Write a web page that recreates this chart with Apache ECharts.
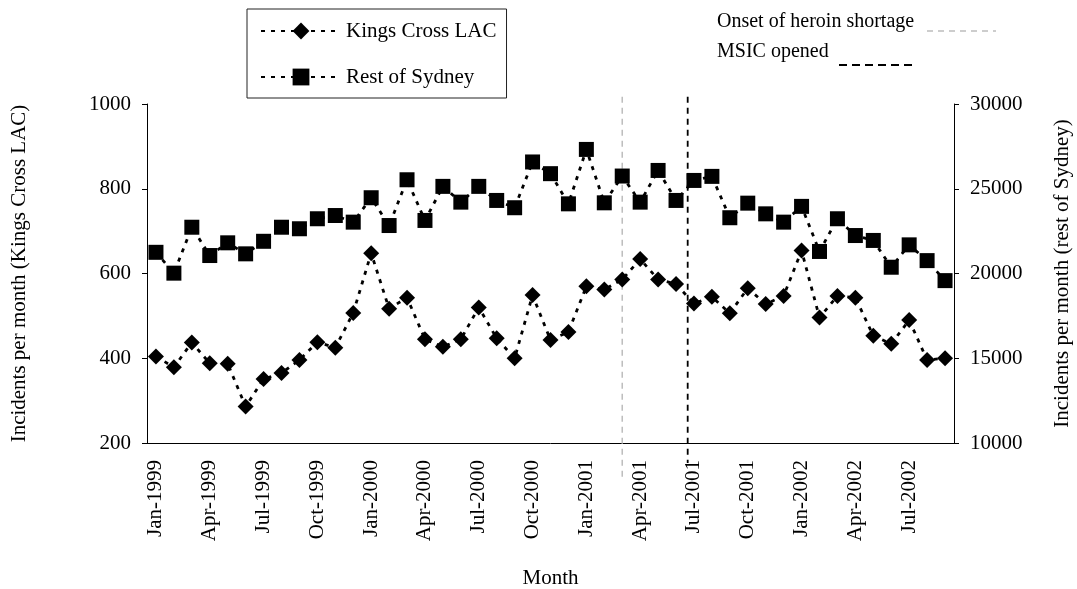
<!DOCTYPE html>
<html>
<head>
<meta charset="utf-8">
<title>Kings Cross LAC vs Rest of Sydney</title>
<script src="https://cdn.jsdelivr.net/npm/echarts@6/dist/echarts.min.js"></script>
<style>
    body{
        margin: 0;
        background: #fff;
    }
    #main{
        width: 1077px;
        height: 589px;
    }
</style>
</head>
<body>
<div id="main"></div>
<script>
    // months Jan-1999 .. Sep-2002
    var monthNames = ['Jan','Feb','Mar','Apr','May','Jun','Jul','Aug','Sep','Oct','Nov','Dec'];
    var years = [1999, 2000, 2001, 2002];
    var monthCount = 45;
    var months = [];
    for (var i = 0; i < monthCount; i++) {
        months.push(monthNames[i % 12] + '-' + years[Math.floor(i / 12)]);
    }

    // incidents per month, Kings Cross LAC (left axis)
    var kingsCross = [404, 379, 437, 388, 387, 286, 351, 365, 396, 438, 425, 507,
                      648, 517, 543, 445, 427, 445, 520, 447, 400, 549, 443, 462,
                      570, 562, 586, 634, 586, 575, 529, 545, 506, 565, 528, 547,
                      654, 496, 547, 543, 453, 434, 490, 396, 400];
    // incidents per month, rest of Sydney (right axis)
    var restOfSydney = [21250, 20020, 22730, 21060, 21810, 21160, 21900, 22730, 22640, 23230, 23420, 23030,
                        24470, 22830, 25530, 23130, 25140, 24210, 25140, 24310, 23880, 26580, 25890, 24110,
                        27320, 24170, 25750, 24210, 26080, 24310, 25490, 25730, 23290, 24150, 23520, 23030,
                        23960, 21300, 23230, 22240, 21950, 20370, 21690, 20760, 19580];

    // event lines: position on the month scale (0 = start of Jan-1999), top and bottom on left axis scale
    var eventNames = ['Onset of heroin shortage', 'MSIC opened'];
    var eventPos = [26.5, 30.15];
    var eventTop = [1017, 1017];
    var eventBottom = [117, 153];
    var eventColors = ['#bdbdbd', '#000'];

    var font = 'Liberation Serif';
    var txt = {color: '#000', fontFamily: font, fontSize: 21};
    var plain = function (v) { return String(v); };

    function eventSeries(k) {
        return {
            name: eventNames[k],
            type: 'line',
            xAxisIndex: 1,
            yAxisIndex: 0,
            clip: false,
            silent: true,
            symbol: 'none',
            z: 1,
            data: [[eventPos[k], eventTop[k]], [eventPos[k], eventBottom[k]]],
            lineStyle: {color: eventColors[k], width: k == 0 ? 1.5 : 1.8, type: [6, 5]}
        };
    }

    var myChart = echarts.init(document.getElementById('main'));
    myChart.setOption({
        animation: false,
        backgroundColor: '#fff',
        grid: {left: 147, right: 123, top: 104, bottom: 146, containLabel: false, outerBoundsMode: 'none'},
        legend: {
            data: ['Kings Cross LAC', 'Rest of Sydney'],
            orient: 'vertical',
            left: 247,
            top: 9,
            padding: [11, 10, 10, 13],
            borderColor: '#222',
            borderWidth: 1,
            itemWidth: 80,
            itemHeight: 21,
            itemGap: 24,
            textStyle: {color: '#000', fontFamily: font, fontSize: 21, lineHeight: 22}
        },
        xAxis: [{
            type: 'category',
            data: months,
            name: 'Month',
            nameLocation: 'middle',
            nameGap: 125,
            nameTextStyle: txt,
            axisLine: {lineStyle: {color: '#000', width: 1}},
            axisTick: {interval: 0, length: 5, lineStyle: {color: '#000'}},
            axisLabel: {interval: 2, rotate: 90, margin: 17, color: '#000', fontFamily: font, fontSize: 21},
            splitLine: {show: false}
        }, {
            type: 'value',
            min: 0,
            max: monthCount,
            show: false
        }],
        yAxis: [{
            type: 'value',
            min: 200,
            max: 1000,
            interval: 200,
            name: 'Incidents per month (Kings Cross LAC)',
            nameLocation: 'middle',
            nameRotate: 90,
            nameGap: 117,
            nameTextStyle: txt,
            axisLine: {show: true, lineStyle: {color: '#000'}},
            axisTick: {show: true, length: 5, lineStyle: {color: '#000'}},
            axisLabel: {margin: 16, color: '#000', fontFamily: font, fontSize: 21, formatter: plain},
            splitLine: {show: false}
        }, {
            type: 'value',
            min: 10000,
            max: 30000,
            interval: 5000,
            name: 'Incidents per month (rest of Sydney)',
            nameLocation: 'middle',
            nameRotate: 90,
            nameGap: 98,
            nameTextStyle: txt,
            axisLine: {show: true, lineStyle: {color: '#000'}},
            axisTick: {show: true, length: 5, lineStyle: {color: '#000'}},
            axisLabel: {margin: 16, color: '#000', fontFamily: font, fontSize: 21, formatter: plain},
            splitLine: {show: false}
        }],
        series: [{
            name: 'Kings Cross LAC',
            type: 'line',
            yAxisIndex: 0,
            data: kingsCross,
            symbol: 'diamond',
            symbolSize: 16,
            showAllSymbol: true,
            z: 3,
            itemStyle: {color: '#000'},
            lineStyle: {color: '#000', width: 2.8, type: [4, 6]}
        }, {
            name: 'Rest of Sydney',
            type: 'line',
            yAxisIndex: 1,
            data: restOfSydney,
            symbol: 'rect',
            symbolSize: 15,
            showAllSymbol: true,
            z: 3,
            itemStyle: {color: '#000'},
            lineStyle: {color: '#000', width: 2.8, type: [4, 6]}
        }, eventSeries(0), eventSeries(1)],
        graphic: [
            {type: 'text', left: 717, top: 12, style: {text: eventNames[0], fill: '#000', font: '20px "Liberation Serif"'}},
            {type: 'line', shape: {x1: 927, y1: 31, x2: 996, y2: 31}, style: {stroke: eventColors[0], lineWidth: 1.5, lineDash: [6, 5]}},
            {type: 'text', left: 717, top: 42, style: {text: eventNames[1], fill: '#000', font: '20px "Liberation Serif"'}},
            {type: 'line', shape: {x1: 839, y1: 65, x2: 915, y2: 65}, style: {stroke: eventColors[1], lineWidth: 2, lineDash: [8, 5]}}
        ]
    });
</script>
</body>
</html>
